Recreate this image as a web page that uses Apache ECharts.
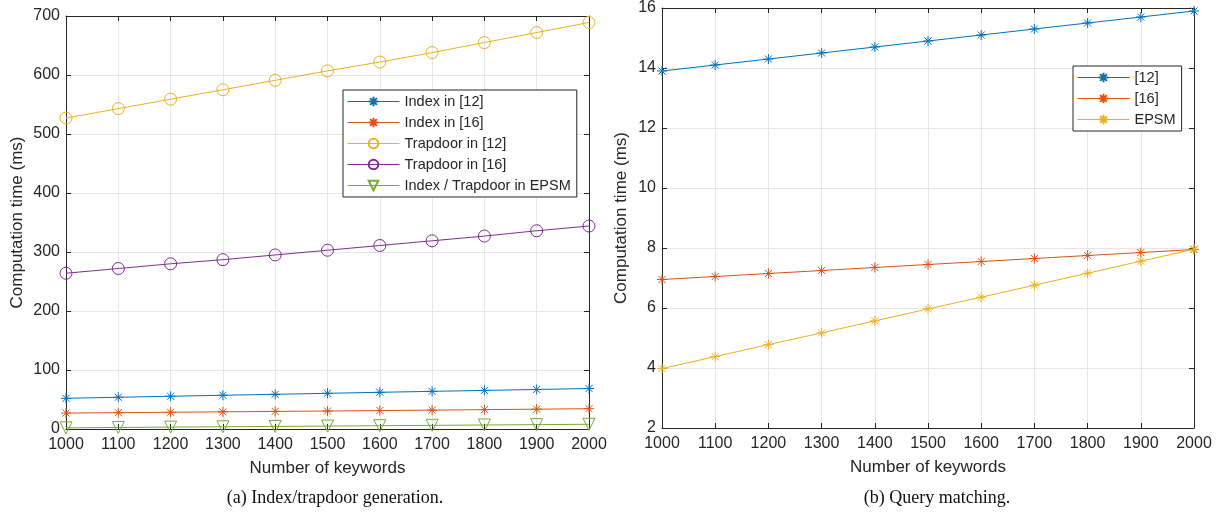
<!DOCTYPE html>
<html>
<head>
<meta charset="utf-8">
<script src="https://cdn.jsdelivr.net/npm/echarts@6/dist/echarts.min.js"></script>
<style>
  html, body { margin: 0; padding: 0; background: #fff; }
  #chart { width: 1219px; height: 518px; }
</style>
</head>
<body>
<div id="chart"></div>
<script>
var dom = document.getElementById('chart');
var myChart = echarts.init(dom, null, { renderer: 'canvas' });

// data
var keywords = [1000, 1100, 1200, 1300, 1400, 1500, 1600, 1700, 1800, 1900, 2000];
// (a) index / trapdoor generation, ms
var index12 = [52, 53.8, 55.5, 57.2, 58.8, 60.5, 62.2, 63.8, 65.4, 67, 68.6];
var index16 = [27, 27.7, 28.4, 29.1, 29.8, 30.5, 31.3, 32, 32.8, 33.6, 34.4];
var trap12 = [527, 543, 559, 575, 591, 607, 622, 638, 655, 672, 689];
var trap16 = [264, 272, 280, 287, 295, 303, 311, 319, 327, 336, 344];
var epsmIdx = [2, 2.6, 3.2, 3.8, 4.4, 5, 5.6, 6.2, 6.8, 7.4, 8];
// (b) query matching, ms
var query12 = [13.9, 14.1, 14.3, 14.5, 14.7, 14.9, 15.1, 15.3, 15.5, 15.7, 15.9];
var query16 = [6.95, 7.05, 7.15, 7.25, 7.35, 7.45, 7.55, 7.65, 7.75, 7.85, 7.95];
var queryEPSM = [3.98, 4.38, 4.78, 5.17, 5.57, 5.97, 6.36, 6.76, 7.16, 7.56, 7.96];

var C1 = '#0072BD', C2 = '#D95319', C3 = '#EDB120', C4 = '#7E2F8E', C5 = '#77AC30';
var ink = '#262626';
var font = 'Liberation Sans';
var star = 'path://M0,-1 L0,1 M-1,0 L1,0 M-0.7,-0.7 L0.7,0.7 M-0.7,0.7 L0.7,-0.7';

function pairs(ys) {
  return keywords.map(function (k, i) { return [k, ys[i]]; });
}

function series(name, ys, color, symbol, size, idx, rotate) {
  return {
    name: name,
    type: 'line',
    xAxisIndex: idx,
    yAxisIndex: idx,
    data: pairs(ys),
    symbol: symbol,
    symbolSize: size,
    symbolRotate: rotate || 0,
    showAllSymbol: true,
    lineStyle: { color: color, width: 1 },
    itemStyle: { color: 'rgba(255,255,255,0)', borderColor: color, borderWidth: 1 },
    emphasis: { disabled: true },
    animation: false
  };
}

function xAxis(idx, pos, labels) {
  return {
    type: 'value', gridIndex: idx, position: pos,
    min: 1000, max: 2000, interval: 100,
    name: labels ? 'Number of keywords' : '',
    nameLocation: 'middle', nameGap: 31,
    nameTextStyle: { color: ink, fontFamily: font, fontSize: 17 },
    axisLine: { show: true, onZero: false, lineStyle: { color: ink, width: 1 } },
    axisTick: { show: true, inside: true, length: 5, lineStyle: { color: ink } },
    axisLabel: { show: labels, color: ink, fontFamily: font, fontSize: 16, margin: 8,
      formatter: function (v) { return String(v); } },
    splitLine: { show: labels, lineStyle: { color: '#e6e6e6', width: 1 } }
  };
}

function yAxis(idx, pos, min, max, step, gap, labels) {
  return {
    type: 'value', gridIndex: idx, position: pos,
    min: min, max: max, interval: step,
    name: labels ? 'Computation time (ms)' : '',
    nameLocation: 'middle', nameGap: gap,
    nameTextStyle: { color: ink, fontFamily: font, fontSize: 17 },
    axisLine: { show: true, onZero: false, lineStyle: { color: ink, width: 1 } },
    axisTick: { show: true, inside: true, length: 5, lineStyle: { color: ink } },
    axisLabel: { show: labels, color: ink, fontFamily: font, fontSize: 16, margin: 6 },
    splitLine: { show: labels, lineStyle: { color: '#e6e6e6', width: 1 } }
  };
}

var legendBase = {
  orient: 'vertical',
  backgroundColor: '#fff',
  borderColor: ink,
  borderWidth: 1,
  borderRadius: 0,
  itemWidth: 52,
  itemHeight: 12,
  itemGap: 6,
  padding: [4, 6, 4, 4],
  lineStyle: { width: 1 },
  textStyle: { color: ink, fontFamily: font, fontSize: 14.5 },
  selectedMode: false
};

var option = {
  backgroundColor: '#fff',
  animation: false,
  title: [
    { text: '(a) Index/trapdoor generation.', left: 330, top: 484, textAlign: 'center',
      textStyle: { fontFamily: 'Liberation Serif', fontSize: 18, fontWeight: 'normal', color: '#111' } },
    { text: '(b) Query matching.', left: 932, top: 484, textAlign: 'center',
      textStyle: { fontFamily: 'Liberation Serif', fontSize: 18, fontWeight: 'normal', color: '#111' } }
  ],
  grid: [
    { left: 66, right: 630, top: 16, bottom: 89 },
    { left: 662, right: 25, top: 8, bottom: 90 }
  ],
  xAxis: [xAxis(0, 'bottom', true), xAxis(0, 'top', false), xAxis(1, 'bottom', true), xAxis(1, 'top', false)],
  yAxis: [
    yAxis(0, 'left', 0, 700, 100, 40, true), yAxis(0, 'right', 0, 700, 100, 0, false),
    yAxis(1, 'left', 2, 16, 2, 32, true), yAxis(1, 'right', 2, 16, 2, 0, false)
  ],
  legend: [
    Object.assign({}, legendBase, {
      left: 343, top: 90,
      data: ['Index in [12]', 'Index in [16]', 'Trapdoor in [12]', 'Trapdoor in [16]', 'Index / Trapdoor in EPSM']
    }),
    Object.assign({}, legendBase, {
      left: 1073, top: 66,
      data: ['[12]', '[16]', 'EPSM']
    })
  ],
  series: [
    series('Index in [12]', index12, C1, star, 10, 0),
    series('Index in [16]', index16, C2, star, 10, 0),
    series('Trapdoor in [12]', trap12, C3, 'circle', 12, 0),
    series('Trapdoor in [16]', trap16, C4, 'circle', 12, 0),
    series('Index / Trapdoor in EPSM', epsmIdx, C5, 'triangle', 12, 0, 180),
    series('[12]', query12, C1, star, 10, 2),
    series('[16]', query16, C2, star, 10, 2),
    series('EPSM', queryEPSM, C3, star, 10, 2)
  ]
};

myChart.setOption(option);
window.addEventListener('resize', myChart.resize);
</script>
</body>
</html>
